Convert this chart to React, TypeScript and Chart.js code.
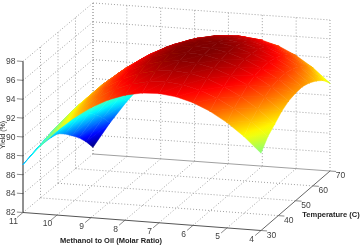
import React, { useEffect, useRef } from "react";
import { Chart, registerables } from "chart.js";

Chart.register(...registerables);

const methanolGrid = [11, 10.5, 10, 9.5, 9, 8.5, 8, 7.5, 7, 6.5, 6, 5.5, 5, 4.5, 4];
const temperatureGrid = [30, 34, 38, 42, 46, 50, 54, 58, 62, 66, 70];
const yieldAt30 = [87.08, 89.15, 90.94, 92.44, 93.66, 94.6, 95.25, 95.61, 95.69, 95.49, 95.0, 94.22, 93.16, 91.82, 90.19];
const yieldAt34 = [87.33, 89.46, 91.31, 92.86, 94.13, 95.11, 95.8, 96.21, 96.32, 96.14, 95.68, 94.96, 94.01, 92.81, 91.33];
const yieldAt38 = [87.5, 89.7, 91.61, 93.22, 94.54, 95.56, 96.29, 96.73, 96.88, 96.73, 96.29, 95.6, 94.67, 93.48, 92.01];
const yieldAt42 = [87.51, 89.77, 91.73, 93.4, 94.77, 95.84, 96.62, 97.1, 97.28, 97.16, 96.75, 96.1, 95.23, 94.13, 92.73];
const yieldAt46 = [87.45, 89.67, 91.69, 93.42, 94.84, 95.96, 96.78, 97.3, 97.51, 97.43, 97.04, 96.43, 95.6, 94.54, 93.19];
const yieldAt50 = [87.25, 89.4, 91.48, 93.26, 94.73, 95.9, 96.77, 97.33, 97.58, 97.53, 97.18, 96.6, 95.75, 94.75, 93.4];
const yieldAt54 = [86.6, 88.96, 91.1, 92.94, 94.47, 95.69, 96.6, 97.2, 97.49, 97.47, 97.15, 96.58, 95.8, 94.77, 93.45];
const yieldAt58 = [85.8, 88.33, 90.53, 92.43, 94.01, 95.28, 96.24, 96.88, 97.21, 97.23, 96.93, 96.39, 95.6, 94.57, 93.22];
const yieldAt62 = [84.95, 87.54, 89.81, 91.77, 93.41, 94.73, 95.73, 96.42, 96.79, 96.84, 96.58, 96.05, 95.25, 94.19, 92.8];
const yieldAt66 = [83.93, 86.59, 88.93, 90.94, 92.64, 94.01, 95.06, 95.79, 96.2, 96.29, 96.06, 95.54, 94.73, 93.64, 92.22];
const yieldAt70 = [82.7, 85.42, 87.83, 89.9, 91.65, 93.08, 94.18, 94.96, 95.41, 95.54, 95.34, 94.82, 93.97, 92.8, 91.3];
const yieldRows = [yieldAt30, yieldAt34, yieldAt38, yieldAt42, yieldAt46, yieldAt50, yieldAt54, yieldAt58, yieldAt62, yieldAt66, yieldAt70];

const yieldTicks = [82, 84, 86, 88, 90, 92, 94, 96, 98];
const methanolTicks = [11, 10, 9, 8, 7, 6, 5, 4];
const temperatureTicks = [30, 40, 50, 60, 70];

const W = 363;
const H = 249;
const cA = { x: 23, y: 212.5 };
const cB = { x: 261, y: 230.5 };
const cC = { x: 330, y: 171 };
const cD = { x: 93, y: 154 };
const zPx = 9.44;

type P = { x: number; y: number; z: number };

function project(m: number, t: number, z: number) {
  const u = (11 - m) / 7;
  const v = (t - 30) / 40;
  const bx = cA.x * (1 - u) * (1 - v) + cB.x * u * (1 - v) + cC.x * u * v + cD.x * (1 - u) * v;
  const by = cA.y * (1 - u) * (1 - v) + cB.y * u * (1 - v) + cC.y * u * v + cD.y * (1 - u) * v;
  return { x: bx, y: by - (z - 82) * zPx };
}

const zLo = 82.7;
const zHi = 97.45;
function jet(z: number) {
  const f = Math.min(1, Math.max(0, (z - zLo) / (zHi - zLo)));
  const c = (k: number) => Math.round(255 * Math.min(1, Math.max(0, 1.5 - Math.abs(4 * f - k))));
  return `rgb(${c(3)},${c(2)},${c(1)})`;
}

function trianglePaint(chart: any, pts: P[]) {
  const sx = chart.scales.x;
  const sy = chart.scales.y;
  const p = pts.map((q) => ({ x: sx.getPixelForValue(q.x), y: sy.getPixelForValue(q.y), z: q.z }));
  const cz = (p[0].z + p[1].z + p[2].z) / 3;
  const d1x = p[1].x - p[0].x, d1y = p[1].y - p[0].y, dz1 = p[1].z - p[0].z;
  const d2x = p[2].x - p[0].x, d2y = p[2].y - p[0].y, dz2 = p[2].z - p[0].z;
  const det = d1x * d2y - d1y * d2x;
  if (!Number.isFinite(det) || Math.abs(det) < 1) return jet(cz);
  const gx = (dz1 * d2y - dz2 * d1y) / det;
  const gy = (d1x * dz2 - d2x * dz1) / det;
  const g2 = gx * gx + gy * gy;
  if (g2 < 1e-6) return jet(cz);
  const lo = Math.min(p[0].z, p[1].z, p[2].z);
  const hi = Math.max(p[0].z, p[1].z, p[2].z);
  const grad = chart.ctx.createLinearGradient(
    p[0].x + (gx * (lo - p[0].z)) / g2,
    p[0].y + (gy * (lo - p[0].z)) / g2,
    p[0].x + (gx * (hi - p[0].z)) / g2,
    p[0].y + (gy * (hi - p[0].z)) / g2
  );
  for (let i = 0; i <= 4; i++) grad.addColorStop(i / 4, jet(lo + ((hi - lo) * i) / 4));
  return grad;
}

function triangleDataset(corners: P[]) {
  let li = 0;
  let ri = 0;
  corners.forEach((q, i) => {
    if (q.x < corners[li].x) li = i;
    if (q.x > corners[ri].x) ri = i;
  });
  const ring = [0, 1, 2].map((k) => corners[(li + k) % 3]);
  const data = [...ring, ring[0], corners[ri]].map((q) => ({ x: q.x, y: q.y }));
  const paint = (ctx: any) => trianglePaint(ctx.chart, corners);
  return {
    data,
    showLine: true,
    fill: "shape",
    backgroundColor: paint,
    borderColor: paint,
    borderWidth: 0.5,
    borderJoinStyle: "round",
    borderCapStyle: "round",
    borderDash: [100, 0],
    pointRadius: 0,
  };
}

function surfaceDatasets() {
  const out: any[] = [];
  // nearest cells come first: Chart.js paints the first dataset last
  for (let r = 0; r < temperatureGrid.length - 1; r++) {
    for (let c = methanolGrid.length - 2; c >= 0; c--) {
      const q = [
        [c, r],
        [c + 1, r],
        [c + 1, r + 1],
        [c, r + 1],
      ].map(([i, j]) => ({
        ...project(methanolGrid[i], temperatureGrid[j], yieldRows[j][i]),
        z: yieldRows[j][i],
      }));
      out.push(triangleDataset([q[0], q[1], q[2]]));
      out.push(triangleDataset([q[0], q[2], q[3]]));
    }
  }
  return out;
}

function seg(a: { x: number; y: number }, b: { x: number; y: number }, color: string, dash: number[], width = 1) {
  return {
    data: [a, b],
    showLine: true,
    fill: false,
    borderColor: color,
    borderWidth: width,
    borderDash: dash,
    pointRadius: 0,
  };
}

function frameDatasets() {
  const out: any[] = [];
  const dots = [1, 2];
  const dotColor = "#a0a0a0";
  const topZ = yieldTicks[yieldTicks.length - 1];
  const baseZ = yieldTicks[0];
  // axes and ticks
  out.push(seg(project(11, 30, baseZ), project(11, 30, topZ), "#222222", []));
  out.push(seg(project(11, 30, baseZ), project(4, 30, baseZ), "#555555", []));
  out.push(seg(project(4, 30, baseZ), project(4, 70, baseZ), "#666666", []));
  yieldTicks.forEach((z) => out.push(seg(project(11, 30, z), project(11.18, 30, z), "#8a8a8a", [])));
  methanolTicks.forEach((m) => out.push(seg(project(m, 30, baseZ), project(m, 26.6, baseZ), "#8a8a8a", [])));
  temperatureTicks.forEach((t) => out.push(seg(project(4, t, baseZ), project(3.82, t, baseZ), "#8a8a8a", [])));
  // back floor edge
  out.push(seg(project(11, 70, baseZ), project(4, 70, baseZ), "#a0a0a0", []));
  // grid
  yieldTicks.forEach((z) => {
    if (z !== baseZ) out.push(seg(project(11, 70, z), project(4, 70, z), dotColor, dots));
    out.push(seg(project(11, 30, z), project(11, 70, z), dotColor, dots));
  });
  methanolTicks.forEach((m) => {
    out.push(seg(project(m, 70, baseZ), project(m, 70, topZ), dotColor, dots));
    if (m !== 11 && m !== 4) out.push(seg(project(m, 30, baseZ), project(m, 70, baseZ), dotColor, dots));
  });
  temperatureTicks.forEach((t) => {
    if (t !== 30) out.push(seg(project(11, t, baseZ), project(11, t, topZ), dotColor, dots));
    if (t !== 30 && t !== 70) out.push(seg(project(11, t, baseZ), project(4, t, baseZ), dotColor, dots));
  });
  return out;
}

const labelPlugin = {
  id: "labels3d",
  afterDraw(chart: any) {
    const { ctx, scales } = chart;
    const px = (p: { x: number; y: number }) => ({ x: scales.x.getPixelForValue(p.x), y: scales.y.getPixelForValue(p.y) });
    ctx.save();
    ctx.textBaseline = "middle";
    ctx.fillStyle = "#3f3f3f";
    ctx.font = '8.5px "Liberation Sans"';
    ctx.textAlign = "right";
    yieldTicks.forEach((z) => {
      const p = px(project(11, 30, z));
      ctx.fillText(String(z), p.x - 7.5, p.y + 0.5);
    });
    ctx.textAlign = "center";
    methanolTicks.forEach((m) => {
      const p = px(project(m, 30, 82));
      ctx.fillText(String(m), p.x - 9.5, p.y + 9);
    });
    temperatureTicks.forEach((t) => {
      const p = px(project(4, t, 82));
      ctx.fillText(String(t), p.x + 10.5, p.y + 5);
    });
    ctx.fillStyle = "#222222";
    ctx.font = 'bold 7.5px "Liberation Sans"';
    ctx.fillText("Methanol to Oil (Molar Ratio)", 111, 241);
    ctx.fillText("Temperature (C)", 331, 215);
    ctx.font = '7px "Liberation Sans"';
    ctx.translate(3, 135);
    ctx.rotate(-Math.PI / 2);
    ctx.fillText("Yield (%)", 0, 0);
    ctx.restore();
  },
};

export default function App() {
  const ref = useRef<HTMLCanvasElement>(null);
  useEffect(() => {
    document.body.style.margin = "0";
    const chart = new Chart(ref.current as HTMLCanvasElement, {
      type: "scatter",
      data: { datasets: [...surfaceDatasets(), ...frameDatasets()] },
      options: {
        animation: false,
        responsive: false,
        events: [],
        layout: { padding: 0 },
        scales: {
          x: { type: "linear", min: 0, max: W, display: false },
          y: { type: "linear", min: 0, max: H, reverse: true, display: false },
        },
        plugins: { legend: { display: false }, tooltip: { enabled: false } },
      },
      plugins: [labelPlugin],
    } as any);
    return () => chart.destroy();
  }, []);
  return <canvas ref={ref} width={W} height={H} style={{ display: "block", background: "#fff", filter: "blur(0.5px)" }} />;
}
